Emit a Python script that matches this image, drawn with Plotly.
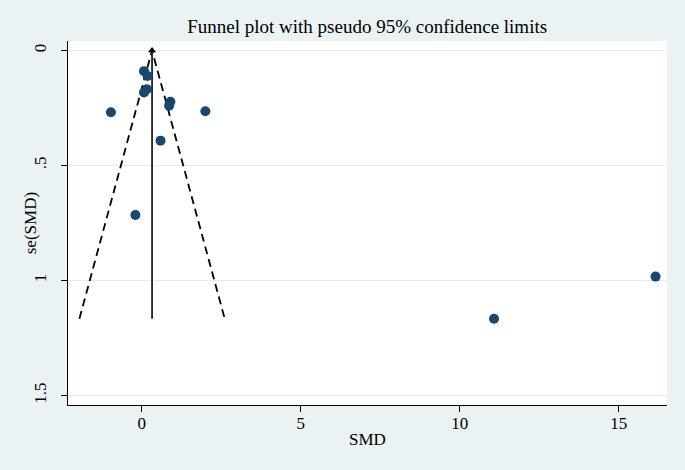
import plotly.graph_objects as go

# Studien: SMD und Standardfehler
smd = [0.07, 0.18, 0.16, 0.07, 0.90, 0.86, -0.97, 2.00, 0.59, -0.20, 11.08, 16.16]
se_smd = [0.090, 0.111, 0.169, 0.183, 0.223, 0.240, 0.269, 0.264, 0.392, 0.715, 1.166, 0.983]

pooled_smd = 0.324
se_max = max(se_smd)

y_tickvals = [0, 0.5, 1, 1.5]
y_ticktext = ["0", ".5", "1", "1.5"]
x_tickvals = [0, 5, 10, 15]

font_serif = "Liberation Serif, Times New Roman, serif"
navy = "#1a476f"

fig = go.Figure()

# Pseudo-95%-Grenzen (gestrichelt)
fig.add_trace(go.Scatter(
    x=[pooled_smd - 1.96 * se_max, pooled_smd, pooled_smd + 1.96 * se_max],
    y=[se_max, 0, se_max],
    mode="lines",
    line=dict(color="black", width=1.8, dash="8px,5px"),
    hoverinfo="skip",
))

# Mittellinie
fig.add_trace(go.Scatter(
    x=[pooled_smd, pooled_smd],
    y=[se_max, 0],
    mode="lines",
    line=dict(color="#222222", width=1.8),
    hoverinfo="skip",
))
fig.add_trace(go.Scatter(
    x=[pooled_smd], y=[0],
    mode="markers",
    marker=dict(symbol="triangle-up", size=7, color="black"),
    hoverinfo="skip",
))

# Studien
fig.add_trace(go.Scatter(
    x=smd, y=se_smd,
    mode="markers",
    marker=dict(color=navy, size=10),
))

fig.update_layout(
    width=685, height=470,
    margin=dict(l=68, r=18, t=41, b=65),
    paper_bgcolor="#eaf2f3",
    plot_bgcolor="white",
    showlegend=False,
    font=dict(family=font_serif, size=17, color="black"),
    title=dict(
        text="Funnel plot with pseudo 95% confidence limits",
        x=0.536, xanchor="center", y=0.943, yanchor="middle",
        font=dict(family=font_serif, size=19, color="black"),
    ),
    xaxis=dict(
        range=[-2.32, 16.52],
        tickvals=x_tickvals,
        ticklabelstandoff=-4,
        showgrid=False, zeroline=False,
        showline=True, linecolor="black", linewidth=1.2,
        ticks="outside", ticklen=6, tickcolor="black",
        automargin=False,
    ),
    yaxis=dict(
        range=[1.541, -0.041],
        tickvals=y_tickvals, ticktext=y_ticktext,
        tickangle=-90,
        ticklabelstandoff=8,
        showgrid=True, gridcolor="#e3ecef", gridwidth=1,
        zeroline=False,
        showline=True, linecolor="black", linewidth=1.2,
        ticks="outside", ticklen=6, tickcolor="black",
        automargin=False,
    ),
)

# Achsentitel als Annotationen (genauere Platzierung)
fig.add_annotation(text="SMD", xref="paper", yref="paper", x=0.5, y=-0.096,
                   showarrow=False, xanchor="center", yanchor="middle")
fig.add_annotation(text="se(SMD)", xref="paper", yref="paper", x=-0.063, y=0.5,
                   textangle=-90, showarrow=False, xanchor="center", yanchor="middle")

fig.write_html("out.html", config={"displayModeBar": False},
               post_script="document.body.style.margin='0';")
